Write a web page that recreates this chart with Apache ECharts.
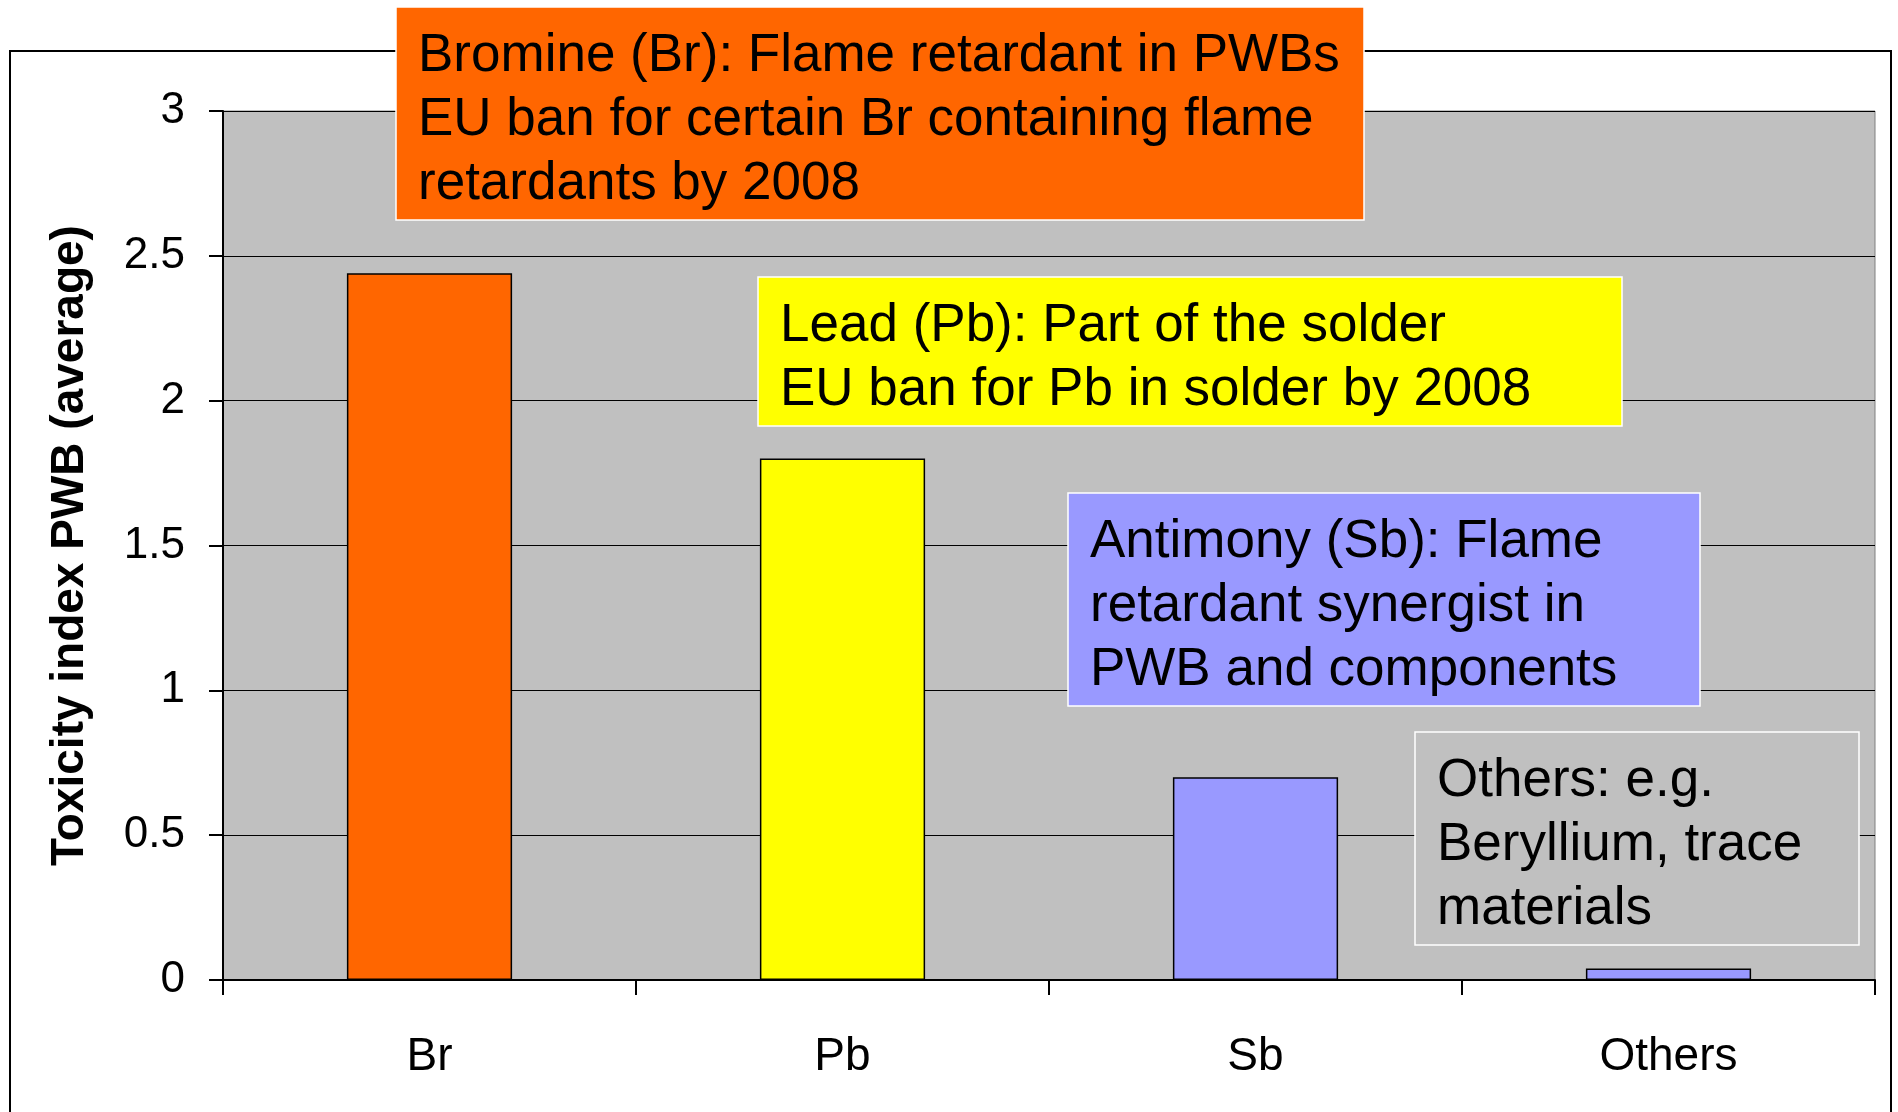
<!DOCTYPE html>
<html>
<head>
<meta charset="utf-8">
<title>Toxicity index PWB</title>
<script src="https://cdn.jsdelivr.net/npm/echarts@6/dist/echarts.min.js"></script>
<style>
  html, body { margin: 0; padding: 0; background: #fff; }
  #main { width: 1898px; height: 1112px; }
</style>
</head>
<body>
<div id="main"></div>
<script>
// 数据
const categories = ['Br', 'Pb', 'Sb', 'Others']
const toxicity = [2.44, 1.8, 0.7, 0.04]
const barColors = ['#FF6600', '#FFFF00', '#9999FF', '#9999FF']

// 注释文字
const noteBromine = ['Bromine (Br): Flame retardant in PWBs', 'EU ban for certain Br containing flame', 'retardants by 2008']
const noteLead = ['Lead (Pb): Part of the solder', 'EU ban for Pb in solder by 2008']
const noteAntimony = ['Antimony (Sb): Flame', 'retardant synergist in', 'PWB and components']
const noteOthers = ['Others: e.g.', 'Beryllium, trace', 'materials']

const FONT = '"Liberation Sans", Arial, sans-serif'

// 注释框（z 要写在每个子元素上）
const noteBox = (x, y, w, h, fill, lines) => ({
  type: 'group',
  children: [
    {
      type: 'rect',
      z: 100,
      shape: { x: x, y: y, width: w, height: h },
      style: { fill: fill, stroke: '#ffffff', lineWidth: 1.5 }
    },
    {
      type: 'text',
      z: 101,
      x: x + 22,
      y: y + 17,
      style: {
        text: lines.join('\n'),
        font: '53px ' + FONT,
        fill: '#000',
        lineHeight: 64,
        verticalAlign: 'top'
      }
    }
  ]
})

const chartDom = document.getElementById('main')
const myChart = echarts.init(chartDom)

const option = {
  animation: false,
  backgroundColor: '#fff',
  textStyle: { fontFamily: FONT },
  grid: {
    left: 223,
    top: 111,
    right: 23,
    bottom: 132,
    show: true,
    backgroundColor: '#C0C0C0',
    borderColor: '#808080',
    borderWidth: 1
  },
  xAxis: {
    type: 'category',
    data: categories,
    axisLine: { lineStyle: { color: '#000', width: 2 } },
    axisTick: { show: true, length: 15, lineStyle: { color: '#000', width: 2 } },
    axisLabel: { color: '#000', fontSize: 46, margin: 54, fontFamily: FONT }
  },
  yAxis: {
    type: 'value',
    min: 0,
    max: 3,
    interval: 0.5,
    name: 'Toxicity index PWB (average)',
    nameLocation: 'middle',
    nameGap: 130,
    nameTextStyle: { color: '#000', fontSize: 46, fontWeight: 'bold', fontFamily: FONT },
    axisLine: { show: true, lineStyle: { color: '#000', width: 2 } },
    axisTick: { show: true, length: 14, lineStyle: { color: '#000', width: 2 } },
    axisLabel: { color: '#000', fontSize: 44, margin: 38, fontFamily: FONT },
    splitLine: { show: true, lineStyle: { color: '#000', width: 1 } }
  },
  series: [
    {
      type: 'bar',
      barWidth: '40%',
      data: toxicity.map((v, i) => ({
        value: v,
        itemStyle: { color: barColors[i], borderColor: '#000', borderWidth: 1.5 }
      }))
    }
  ],
  graphic: [
    {
      type: 'rect',
      z: 50,
      shape: { x: 10, y: 51, width: 1881, height: 1100 },
      style: { fill: 'none', stroke: '#000', lineWidth: 2 }
    },
    noteBox(396, 7, 968, 213, '#FF6600', noteBromine),
    noteBox(758, 277, 864, 149, '#FFFF00', noteLead),
    noteBox(1068, 493, 632, 213, '#9999FF', noteAntimony),
    noteBox(1415, 732, 444, 213, '#C0C0C0', noteOthers)
  ]
}

option && myChart.setOption(option)
</script>
</body>
</html>
